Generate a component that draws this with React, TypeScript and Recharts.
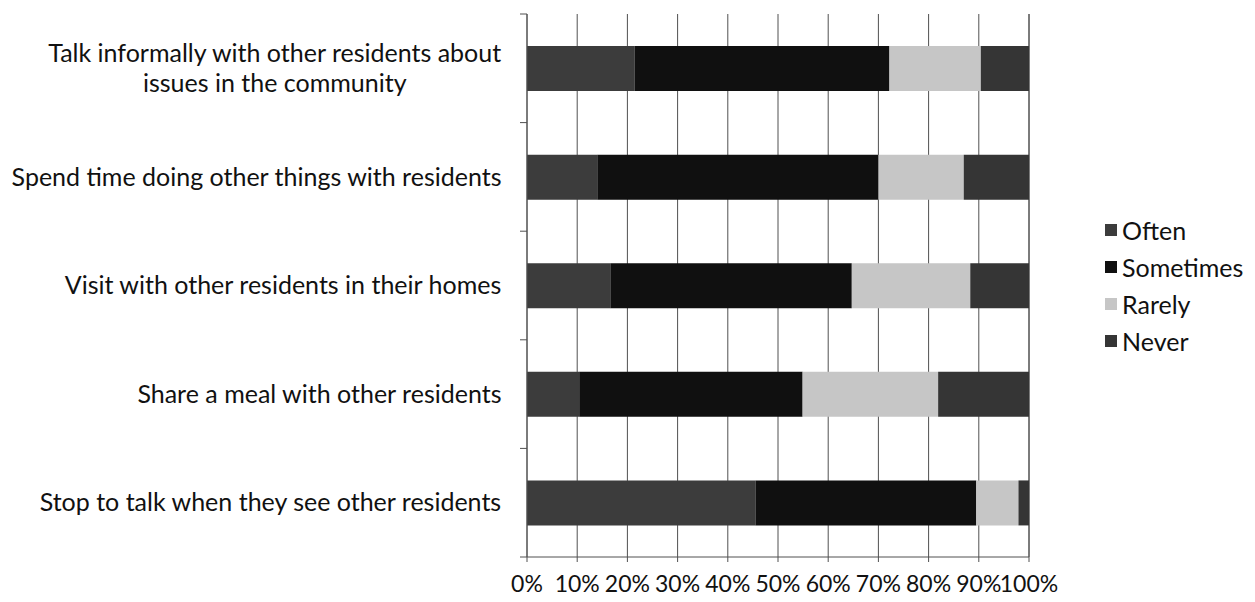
import { BarChart, Bar, XAxis, YAxis, CartesianGrid, Legend } from 'recharts'

const categories = [
  'Talk informally with other residents about\nissues in the community',
  'Spend time doing other things with residents',
  'Visit with other residents in their homes',
  'Share a meal with other residents',
  'Stop to talk when they see other residents',
]

// percent of respondents
const often = [21.4, 14.0, 16.6, 10.4, 45.5]
const sometimes = [50.8, 56.0, 48.1, 44.5, 44.0]
const rarely = [18.2, 17.0, 23.6, 27.0, 8.4]
const never = [9.6, 13.0, 11.7, 18.1, 2.1]

const xTicks = [0, 10, 20, 30, 40, 50, 60, 70, 80, 90, 100]

const SERIES = [
  { key: 'Often', values: often, color: '#3c3c3c' },
  { key: 'Sometimes', values: sometimes, color: '#101010' },
  { key: 'Rarely', values: rarely, color: '#c6c6c6' },
  { key: 'Never', values: never, color: '#353535' },
]

const W = 1255
const H = 602
const AXIS_X = 527
const TOP = 14
const BOTTOM = 45
const LEGEND_W = 150
const RIGHT = W - 1029 - LEGEND_W
const FONT = 'Lato, "Open Sans", sans-serif'
const FS = 25
const TICK_FS = 23
const LINE = 30
const INK = '#111'
const RULE = '#505050'

const data = categories.map((name, i) => {
  const row: Record<string, string | number> = { name }
  SERIES.forEach(s => {
    row[s.key] = s.values[i]
  })
  return row
})

let ctx: CanvasRenderingContext2D | null = null
function textWidth(s: string) {
  if (!ctx && typeof document !== 'undefined') ctx = document.createElement('canvas').getContext('2d')
  if (!ctx) return s.length * FS * 0.5
  ctx.font = `${FS}px Lato`
  return ctx.measureText(s).width
}

function CategoryTick(props: any) {
  const { y, payload, index } = props
  const lines = String(payload.value).split('\n')
  const band = (H - TOP - BOTTOM) / categories.length
  const right = AXIS_X - 25
  const cx = right - Math.max(...lines.map(textWidth)) / 2
  const y0 = y - ((lines.length - 1) * LINE) / 2
  return (
    <g>
      <line x1={AXIS_X - 7} x2={AXIS_X} y1={y - band / 2} y2={y - band / 2} stroke={RULE} />
      {index === categories.length - 1 && (
        <line x1={AXIS_X - 7} x2={AXIS_X} y1={y + band / 2} y2={y + band / 2} stroke={RULE} />
      )}
      <text textAnchor="middle" fontFamily={FONT} fontSize={FS} fill={INK}>
        {lines.map((l, i) => (
          <tspan key={i} x={cx} y={y0 + i * LINE} dy="0.35em">
            {l}
          </tspan>
        ))}
      </text>
    </g>
  )
}

function LegendBox() {
  return (
    <div style={{ width: LEGEND_W, fontFamily: FONT, fontSize: FS, color: INK }}>
      {SERIES.map(s => (
        <div key={s.key} style={{ display: 'flex', alignItems: 'center', height: 37 }}>
          <span style={{ width: 12, height: 12, background: s.color, marginRight: 5, display: 'inline-block' }} />
          <span>{s.key}</span>
        </div>
      ))}
    </div>
  )
}

export default function App() {
  return (
    <div style={{ position: 'absolute', left: 0, top: 0, width: W, height: H, background: '#fff' }}>
      <BarChart
        width={W}
        height={H}
        data={data}
        layout="vertical"
        margin={{ top: TOP, right: RIGHT, bottom: 0, left: 0 }}
        barCategoryGap="29.5%"
      >
        <CartesianGrid horizontal={false} stroke={RULE} />
        <XAxis
          type="number"
          domain={[0, 100]}
          ticks={xTicks}
          interval={0}
          tickFormatter={(v: number) => `${v}%`}
          height={BOTTOM}
          tickSize={5}
          tickMargin={14}
          axisLine={{ stroke: RULE }}
          tickLine={{ stroke: RULE }}
          tick={{ fontFamily: FONT, fontSize: TICK_FS, fill: INK }}
        />
        <YAxis
          type="category"
          dataKey="name"
          width={AXIS_X}
          interval={0}
          axisLine={{ stroke: RULE }}
          tickLine={false}
          tick={<CategoryTick />}
        />
        <Legend
          layout="vertical"
          align="right"
          verticalAlign="top"
          width={LEGEND_W}
          wrapperStyle={{ left: 1105, top: 211 }}
          content={<LegendBox />}
        />
        {SERIES.map(s => (
          <Bar key={s.key} dataKey={s.key} stackId="a" fill={s.color} isAnimationActive={false} />
        ))}
      </BarChart>
    </div>
  )
}
